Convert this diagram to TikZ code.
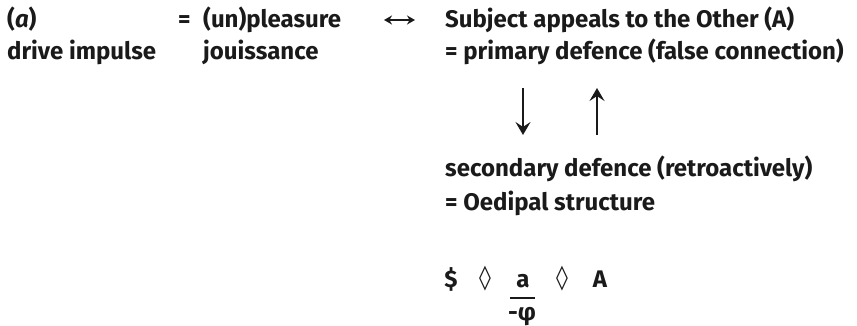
\documentclass[tikz,border=0pt]{standalone}
\usepackage{fontspec}
\setmainfont{Fira Sans}
\newfontfamily\lzfont{DejaVu Sans}
\usetikzlibrary{arrows.meta}
\definecolor{lcInk}{HTML}{1A1A1A}
\newcommand{\LCType}{\fontsize{24}{28}\selectfont\bfseries}
\tikzset{lc/base/.style={x=1pt,y=-1pt,line cap=butt,
  every node/.style={font=\LCType,inner sep=0pt,text=lcInk}},
  lc/line/.style={anchor=base west},
  lc/sym/.style={anchor=base},
  lc/arrow/.style={-{Stealth[length=13pt,width=15pt,inset=5pt]},draw=lcInk,line width=2pt},
  lc/twoway/.style={{Stealth[length=8pt,width=9pt]}-{Stealth[length=8pt,width=9pt]},
    draw=lcInk,line width=2pt},
  lc/bar/.style={draw=lcInk,line width=1.4pt}}

\begin{document}
\begin{tikzpicture}[lc/base]
  \useasboundingbox (0,0) rectangle (857,326);
  % left column and the pleasure term
  \node[lc/line] (tag) at (7,28) {(\textit{a})};
  \node[lc/line] (drive) at (7,60) {drive impulse};
  \node[lc/line] (eq) at (178,28) {=};
  \node[lc/line] (pleasure) at (203,28) {(un)pleasure};
  \node[lc/line] (jouis) at (203,60) {jouissance};
  \coordinate (tw/l) at (384,20);
  \coordinate (tw/r) at (415,20);
  \draw[lc/twoway] (tw/l) -- (tw/r);
  % right column: the two defences
  \node[lc/line] (appeal) at (445,28) {Subject appeals to the Other (A)};
  \node[lc/line] (primary) at (445,60) {= primary defence (false connection)};
  \node[lc/line] (second) at (445,177) {secondary defence (retroactively)};
  \node[lc/line] (oedipal) at (445,210) {= Oedipal structure};
  \coordinate (dn/top) at (523,88);
  \coordinate (dn/bot) at (523,135);
  \coordinate (up/top) at (597,88);
  \coordinate (up/bot) at (597,135);
  \draw[lc/arrow] (dn/top) -- (dn/bot);
  \draw[lc/arrow] (up/bot) -- (up/top);
  % the matheme
  \node[lc/sym] (subj) at (451,287) {\$};
  \node[lc/sym,font=\LCType\lzfont] (lz1) at (485,285) {◊};
  \node[lc/sym] (obj) at (523,287) {a};
  \node[lc/sym,font=\LCType\lzfont] (lz2) at (562,285) {◊};
  \node[lc/sym] (other) at (600,287) {A};
  \coordinate (bar/l) at (510,298);
  \coordinate (bar/r) at (535,298);
  \draw[lc/bar] (bar/l) -- (bar/r);
  \node[lc/sym] (phi) at (522,320) {-φ};
\end{tikzpicture}
\end{document}
